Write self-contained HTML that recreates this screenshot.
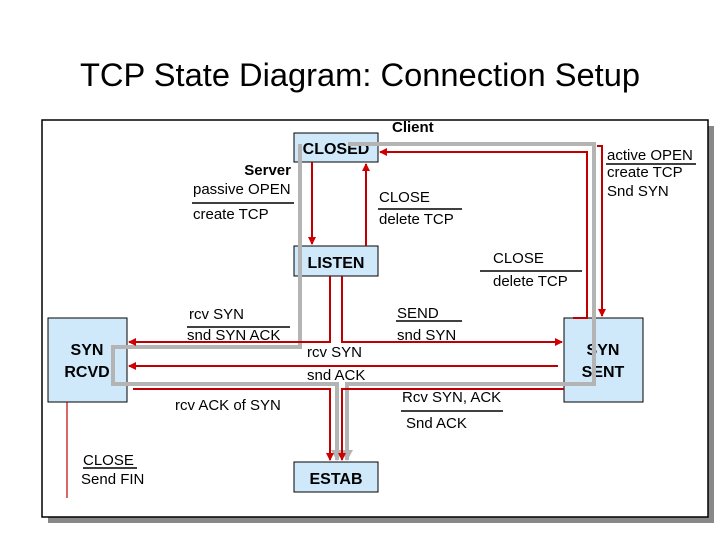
<!DOCTYPE html>
<html><head><meta charset="utf-8"><style>
html,body{margin:0;padding:0;background:#fff;}
svg{display:block;font-family:"Liberation Sans",sans-serif;}
</style></head><body>
<svg width="720" height="540" viewBox="0 0 720 540" xmlns="http://www.w3.org/2000/svg">
<defs>
<marker id="a" markerWidth="8" markerHeight="8" refX="7" refY="4" orient="auto" markerUnits="userSpaceOnUse"><path d="M0,0 L8,4 L0,8 z" fill="#d00000"/></marker>
<marker id="g" markerWidth="12" markerHeight="12" refX="10" refY="6" orient="auto" markerUnits="userSpaceOnUse"><path d="M0,0 L11,6 L0,12 z" fill="#b4b4b4"/></marker>
</defs>
<text x="360" y="86" font-size="32" text-anchor="middle" fill="#000" textLength="560" lengthAdjust="spacingAndGlyphs">TCP State Diagram: Connection Setup</text>
<rect x="48" y="126" width="666" height="397" fill="#888"/>
<rect x="42" y="120" width="666" height="397" fill="#fff" stroke="#000" stroke-width="1.5"/>
<g fill="#cfe8fa" stroke="#000" stroke-width="1">
<rect x="294" y="133" width="84" height="29"/>
<rect x="294" y="246" width="84" height="30"/>
<rect x="48" y="318" width="79" height="84"/>
<rect x="294" y="462" width="84" height="30"/>
<rect x="564" y="318" width="79" height="84"/>
</g>
<g font-size="16" fill="#000" font-weight="bold">
<text x="336" y="154" text-anchor="middle">CLOSED</text>
<text x="336" y="268" text-anchor="middle">LISTEN</text>
<text x="87" y="355" text-anchor="middle">SYN</text>
<text x="87" y="377" text-anchor="middle">RCVD</text>
<text x="336" y="484" text-anchor="middle">ESTAB</text>
<text x="603" y="355" text-anchor="middle">SYN</text>
<text x="603" y="377" text-anchor="middle">SENT</text>
</g>
<g fill="none" stroke="#b4b4b4" stroke-width="4">
<polyline points="300,144 300,347 113,347 113,384 337,384 337,460" marker-end="url(#g)"/>
<polyline points="348,144 594,144 594,384 347,384 347,460" marker-end="url(#g)"/>
</g>
<g fill="none" stroke="#c00000" stroke-width="2">
<line x1="312" y1="162" x2="312" y2="244" marker-end="url(#a)"/>
<line x1="366" y1="246" x2="366" y2="164" marker-end="url(#a)"/>
<polyline points="573,318 587,318 587,152 380,152" marker-end="url(#a)"/>
<polyline points="597,146 602,146 602,316" marker-end="url(#a)"/>
<polyline points="330,276 330,342 129,342" marker-end="url(#a)"/>
<polyline points="342,276 342,342 562,342" marker-end="url(#a)"/>
<polyline points="558,366 129,366" marker-end="url(#a)"/>
<polyline points="133,389 330,389 330,460" marker-end="url(#a)"/>
<polyline points="564,389 342,389 342,460" marker-end="url(#a)"/>
<line x1="67" y1="402" x2="67" y2="498" stroke-width="1.2"/>
</g>
<g font-size="15" fill="#000">
<text x="392" y="132" font-weight="bold">Client</text>
<text x="291" y="175" font-weight="bold" text-anchor="end">Server</text>
<text x="193" y="194">passive OPEN</text>
<line x1="192" y1="203" x2="294" y2="203" stroke="#000" stroke-width="1.5"/>
<text x="193" y="219">create TCP</text>
<text x="379" y="202">CLOSE</text>
<line x1="378" y1="209" x2="462" y2="209" stroke="#000" stroke-width="1.5"/>
<text x="379" y="224">delete TCP</text>
<text x="607" y="160">active OPEN</text>
<line x1="606" y1="164" x2="696" y2="164" stroke="#000" stroke-width="1.5"/>
<text x="607" y="177">create TCP</text>
<text x="607" y="196">Snd SYN</text>
<text x="493" y="263">CLOSE</text>
<line x1="480" y1="271" x2="582" y2="271" stroke="#000" stroke-width="1.5"/>
<text x="493" y="286">delete TCP</text>
<text x="189" y="319">rcv SYN</text>
<line x1="187" y1="327" x2="290" y2="327" stroke="#000" stroke-width="1.5"/>
<text x="187" y="340">snd SYN ACK</text>
<text x="397" y="318">SEND</text>
<line x1="396" y1="321" x2="462" y2="321" stroke="#000" stroke-width="1.5"/>
<text x="397" y="340">snd SYN</text>
<text x="307" y="357">rcv SYN</text>
<text x="307" y="380">snd ACK</text>
<text x="402" y="402">Rcv SYN, ACK</text>
<line x1="401" y1="411" x2="503" y2="411" stroke="#000" stroke-width="1.5"/>
<text x="406" y="428">Snd ACK</text>
<text x="175" y="410">rcv ACK of SYN</text>
<text x="83" y="465">CLOSE</text>
<line x1="83" y1="468" x2="137" y2="468" stroke="#000" stroke-width="1.5"/>
<text x="81" y="484">Send FIN</text>
</g>
</svg>
</body></html>
